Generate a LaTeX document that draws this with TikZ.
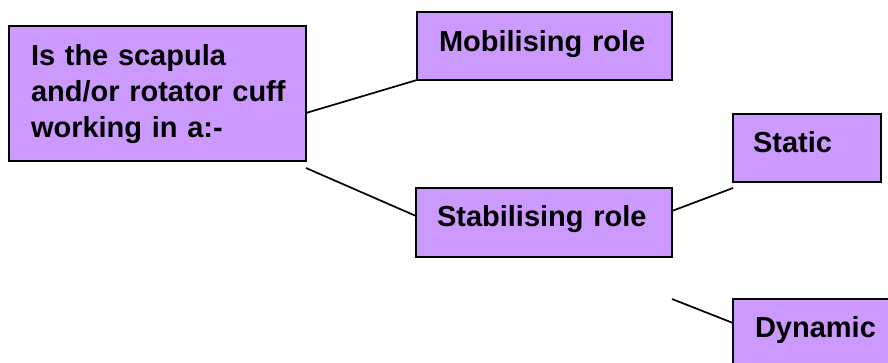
\documentclass[tikz,border=0pt]{standalone}
\usepackage{fontspec}
\setmainfont{Liberation Sans}
\usetikzlibrary{calc}
\definecolor{boxfill}{HTML}{CC99FF}
\begin{document}
\begin{tikzpicture}[x=1pt,y=-1pt,
  rolebox/.style={draw=black, line width=1.8pt, fill=boxfill, anchor=north west,
    outer sep=0pt, inner ysep=0pt, align=left,
    font=\fontsize{29}{36}\selectfont\bfseries},
  link/.style={draw=black, line width=1.7pt}]
\clip (0,0) rectangle (888,363);
\fill[white] (0,0) rectangle (888,363);
\node[rolebox, inner xsep=22pt, text width=253pt, text height=40pt, text depth=95pt] (q) at (9,26)
  {\mbox{Is the scapula}\\\mbox{and/or rotator cuff}\\\mbox{working in a:-}};
\node[rolebox, inner xsep=22pt, text width=211pt, text height=40pt, text depth=28pt] (mob) at (417,12) {Mobilising role};
\node[rolebox, inner xsep=21pt, text width=214pt, text height=39pt, text depth=30pt] (stab) at (416,188) {Stabilising role};
\node[rolebox, inner xsep=20pt, text width=108pt, text height=39pt, text depth=29pt] (stat) at (733,114) {Static};
\node[rolebox, inner xsep=22pt, text width=180pt, text height=38pt, text depth=40pt] (dyn) at (733,299) {Dynamic};
\draw[link] ($(q.north east)+(0,87)$) -- (mob.south west);
\draw[link] ($(q.south east)+(0,7)$) -- ($(stab.north west)+(0,28)$);
\draw[link] ($(stab.north east)+(0,23)$) -- ($(stat.south west)+(0,6)$);
\draw[link] ($(stab.south east)+(0,42)$) -- ($(dyn.north west)+(0,24)$);
\end{tikzpicture}
\end{document}
